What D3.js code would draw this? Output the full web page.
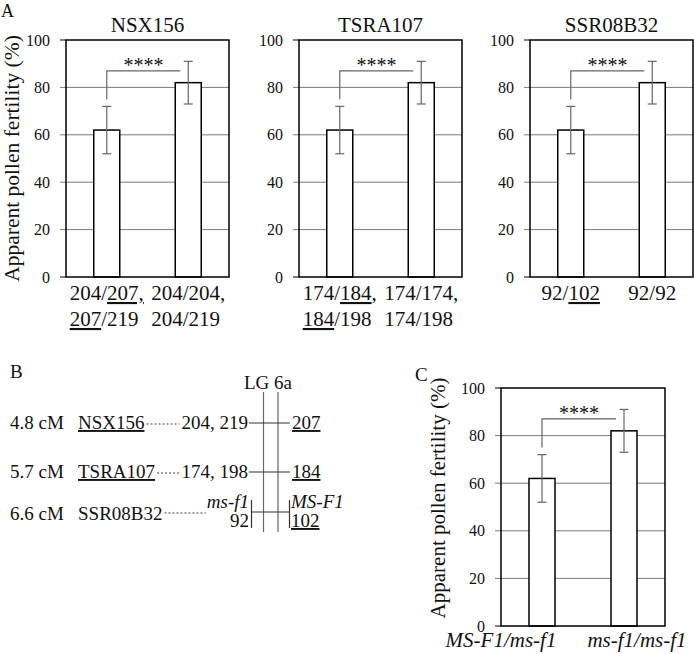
<!DOCTYPE html>
<html>
<head>
<meta charset="utf-8">
<script src="https://cdn.jsdelivr.net/npm/d3@7"></script>
<style>
  body { margin: 0; background: #fff; }
  svg text { font-family: "Liberation Serif", "Times New Roman", serif; fill: #111; }
</style>
</head>
<body>
<script>
// --- data ---
const markers = ["NSX156", "TSRA107", "SSR08B32"];
const groups = [0, 1];
const meanA = [[62, 82], [62, 82], [62, 82]];
const lowA = [[52, 73], [52, 73], [52, 73]];
const highA = [[72, 91], [72, 91], [72, 91]];
const meanC = [62, 82];
const lowC = [52, 73];
const highC = [72, 91];
const yTicks = [0, 20, 40, 60, 80, 100];
const sigFrom = 75, sigTop = 87, sigText = "****";

// x labels: bar -> lines -> [text, underlined]
const xLabelsA = [
  [[[["204/", 0], ["207,", 1]], [["207", 1], ["/219", 0]]],
   [[["204/204,", 0]], [["204/219", 0]]]],
  [[[["174/", 0], ["184", 1], [",", 0]], [["184", 1], ["/198", 0]]],
   [[["174/174,", 0]], [["174/198", 0]]]],
  [[[["92/", 0], ["102", 1]]],
   [[["92/92", 0]]]]
];
const xLabelsC = ["MS-F1/ms-f1", "ms-f1/ms-f1"];
const yTitle = "Apparent pollen fertility (%)";

// linkage map (panel B)
const mapDist = ["4.8 cM", "5.7 cM", "6.6 cM"];
const mapMarkers = ["NSX156", "TSRA107", "SSR08B32"];
const mapUnderline = [1, 1, 0];
const leftAlleles = ["204, 219", "174, 198", "92"];
const rightAlleles = ["207", "184", "102"];
const chromName = "LG 6a";

const W = 694, H = 654;
const svg = d3.select("body").append("svg").attr("width", W).attr("height", H);

const grey = "#666";

function barChart(g, w, h, mean, low, high) {
  const y = d3.scaleLinear().domain([0, 100]).range([h, 0]);
  const x = d3.scalePoint().domain(groups).range([0, w]).padding(0.5);
  const bw = 26, cap = 4.5;

  g.selectAll("line.grid").data(yTicks).join("line")
    .attr("class", "grid")
    .attr("x1", -6).attr("x2", d => (d === 0 || d === 100) ? 0 : w)
    .attr("y1", d => y(d)).attr("y2", d => y(d))
    .attr("stroke", d => (d === 0 || d === 100) ? "#000" : "#7a7a7a")
    .attr("stroke-width", 1);

  g.append("g")
    .call(d3.axisLeft(y).tickValues(yTicks).tickSize(0).tickPadding(16))
    .call(a => a.select(".domain").remove())
    .selectAll("text")
    .attr("font-size", 16).attr("fill", "#111")
    .attr("font-family", "Liberation Serif, serif");

  g.selectAll("rect.bar").data(groups).join("rect")
    .attr("class", "bar")
    .attr("x", d => x(d) - bw / 2).attr("width", bw)
    .attr("y", d => y(mean[d])).attr("height", d => h - y(mean[d]))
    .attr("fill", "#fff").attr("stroke", "#000").attr("stroke-width", 1.5);

  g.append("rect").attr("width", w).attr("height", h)
    .attr("fill", "none").attr("stroke", "#000").attr("stroke-width", 1.5);

  const eb = g.selectAll("g.err").data(groups).join("g").attr("class", "err")
    .attr("stroke", grey).attr("stroke-width", 1.2);
  eb.append("line").attr("x1", d => x(d)).attr("x2", d => x(d))
    .attr("y1", d => y(low[d])).attr("y2", d => y(high[d]));
  eb.append("line").attr("x1", d => x(d) - cap).attr("x2", d => x(d) + cap)
    .attr("y1", d => y(low[d])).attr("y2", d => y(low[d]));
  eb.append("line").attr("x1", d => x(d) - cap).attr("x2", d => x(d) + cap)
    .attr("y1", d => y(high[d])).attr("y2", d => y(high[d]));

  const bx1 = x(0), bx2 = x(1) - 8;
  g.append("path")
    .attr("d", `M${bx1},${y(sigFrom)}V${y(sigTop)}H${bx2}`)
    .attr("fill", "none").attr("stroke", grey).attr("stroke-width", 1.2);
  g.append("text").attr("x", (bx1 + bx2) / 2).attr("y", y(sigTop) + 1)
    .attr("text-anchor", "middle").attr("font-size", 20).text(sigText);

  return { x, y };
}

function multiLabel(g, cx, y0, lines, size) {
  const t = g.append("text").attr("y", y0).attr("font-size", size);
  const tl = lines.map((segs, i) => {
    const line = t.append("tspan").attr("dy", i === 0 ? 0 : 26);
    segs.forEach(([s, u]) => {
      line.append("tspan").text(s)
        .style("text-decoration", u ? "underline" : "none");
    });
    return line;
  });
  const w1 = tl[0].node().getComputedTextLength();
  tl.forEach(l => l.attr("x", cx - w1 / 2));
}

// --- panel A ---
const plotXA = [66, 299, 530], plotYA = 40, plotWA = 163, plotHA = 237;
svg.append("text").attr("x", 1).attr("y", 17).attr("font-size", 18).text("A");

markers.forEach((m, i) => {
  const g = svg.append("g").attr("transform", `translate(${plotXA[i]},${plotYA})`);
  const { x } = barChart(g, plotWA, plotHA, meanA[i], lowA[i], highA[i]);
  g.append("text").attr("x", plotWA / 2).attr("y", -8)
    .attr("text-anchor", "middle").attr("font-size", 21).text(m);
  groups.forEach(d => multiLabel(g, x(d), plotHA + 23, xLabelsA[i][d], 21));
});
svg.append("text")
  .attr("transform", `translate(19,${plotYA + plotHA / 2}) rotate(-90)`)
  .attr("text-anchor", "middle").attr("font-size", 21.5).text(yTitle);

// --- panel C ---
const plotXC = 501, plotYC = 388, plotWC = 164, plotHC = 238;
const labelShiftC = [-41, 13];
svg.append("text").attr("x", 415).attr("y", 381).attr("font-size", 19).text("C");
{
  const g = svg.append("g").attr("transform", `translate(${plotXC},${plotYC})`);
  const { x } = barChart(g, plotWC, plotHC, meanC, lowC, highC);
  groups.forEach(d => {
    g.append("text").attr("x", x(d) + labelShiftC[d]).attr("y", plotHC + 21)
      .attr("text-anchor", "middle").attr("font-size", 21)
      .attr("font-style", "italic").text(xLabelsC[d]);
  });
  svg.append("text")
    .attr("transform", `translate(445,${plotYC + plotHC / 2 - 9}) rotate(-90)`)
    .attr("text-anchor", "middle").attr("font-size", 21).text(yTitle);
}

// --- panel B ---
svg.append("text").attr("x", 10).attr("y", 378).attr("font-size", 19).text("B");
{
  const g = svg.append("g");
  const rowY = [429, 478, 520];
  const chromX = [263.5, 278], chromTop = 392, chromBot = 532;
  const fs = 19;
  g.append("text").attr("x", 268).attr("y", 389).attr("text-anchor", "middle")
    .attr("font-size", fs).text(chromName);
  chromX.forEach(cx => g.append("line").attr("x1", cx).attr("x2", cx)
    .attr("y1", chromTop).attr("y2", chromBot).attr("stroke", grey).attr("stroke-width", 1.2));

  mapDist.forEach((d, i) => {
    const by = rowY[i];
    g.append("text").attr("x", 10).attr("y", by).attr("font-size", fs).text(d);
    const mk = g.append("text").attr("x", 78).attr("y", by).attr("font-size", fs)
      .style("text-decoration", mapUnderline[i] ? "underline" : "none").text(mapMarkers[i]);
    const mkEnd = 78 + mk.node().getComputedTextLength() + 2;
    if (i < 2) {
      const al = g.append("text").attr("x", 248).attr("y", by).attr("text-anchor", "end")
        .attr("font-size", fs).text(leftAlleles[i]);
      const alStart = 248 - al.node().getComputedTextLength() - 2;
      g.append("line").attr("x1", mkEnd).attr("x2", alStart)
        .attr("y1", by - 5).attr("y2", by - 5)
        .attr("stroke", "#444").attr("stroke-dasharray", "2,2");
      g.append("line").attr("x1", 249).attr("x2", 290).attr("y1", by - 6).attr("y2", by - 6)
        .attr("stroke", "#333").attr("stroke-width", 1.2);
      g.append("text").attr("x", 292).attr("y", by).attr("font-size", fs)
        .style("text-decoration", "underline").text(rightAlleles[i]);
    } else {
      const ms = g.append("text").attr("x", 249).attr("y", by - 12).attr("text-anchor", "end")
        .attr("font-size", fs).attr("font-style", "italic").text("ms-f1");
      const msStart = 249 - ms.node().getComputedTextLength() - 1;
      g.append("text").attr("x", 249).attr("y", by + 7).attr("text-anchor", "end")
        .attr("font-size", fs).text(leftAlleles[i]);
      g.append("line").attr("x1", mkEnd).attr("x2", msStart)
        .attr("y1", by - 7).attr("y2", by - 7)
        .attr("stroke", "#444").attr("stroke-dasharray", "2,2");
      g.append("path").attr("d", `M251.5,${by - 20}V${by + 8}M251.5,${by - 8}H289.5M289.5,${by - 20}V${by + 8}`)
        .attr("fill", "none").attr("stroke", "#333").attr("stroke-width", 1.2);
      g.append("text").attr("x", 291).attr("y", by - 12).attr("font-size", fs)
        .attr("font-style", "italic").text("MS-F1");
      g.append("text").attr("x", 291).attr("y", by + 7).attr("font-size", fs)
        .style("text-decoration", "underline").text(rightAlleles[i]);
    }
  });
}
</script>
</body>
</html>
